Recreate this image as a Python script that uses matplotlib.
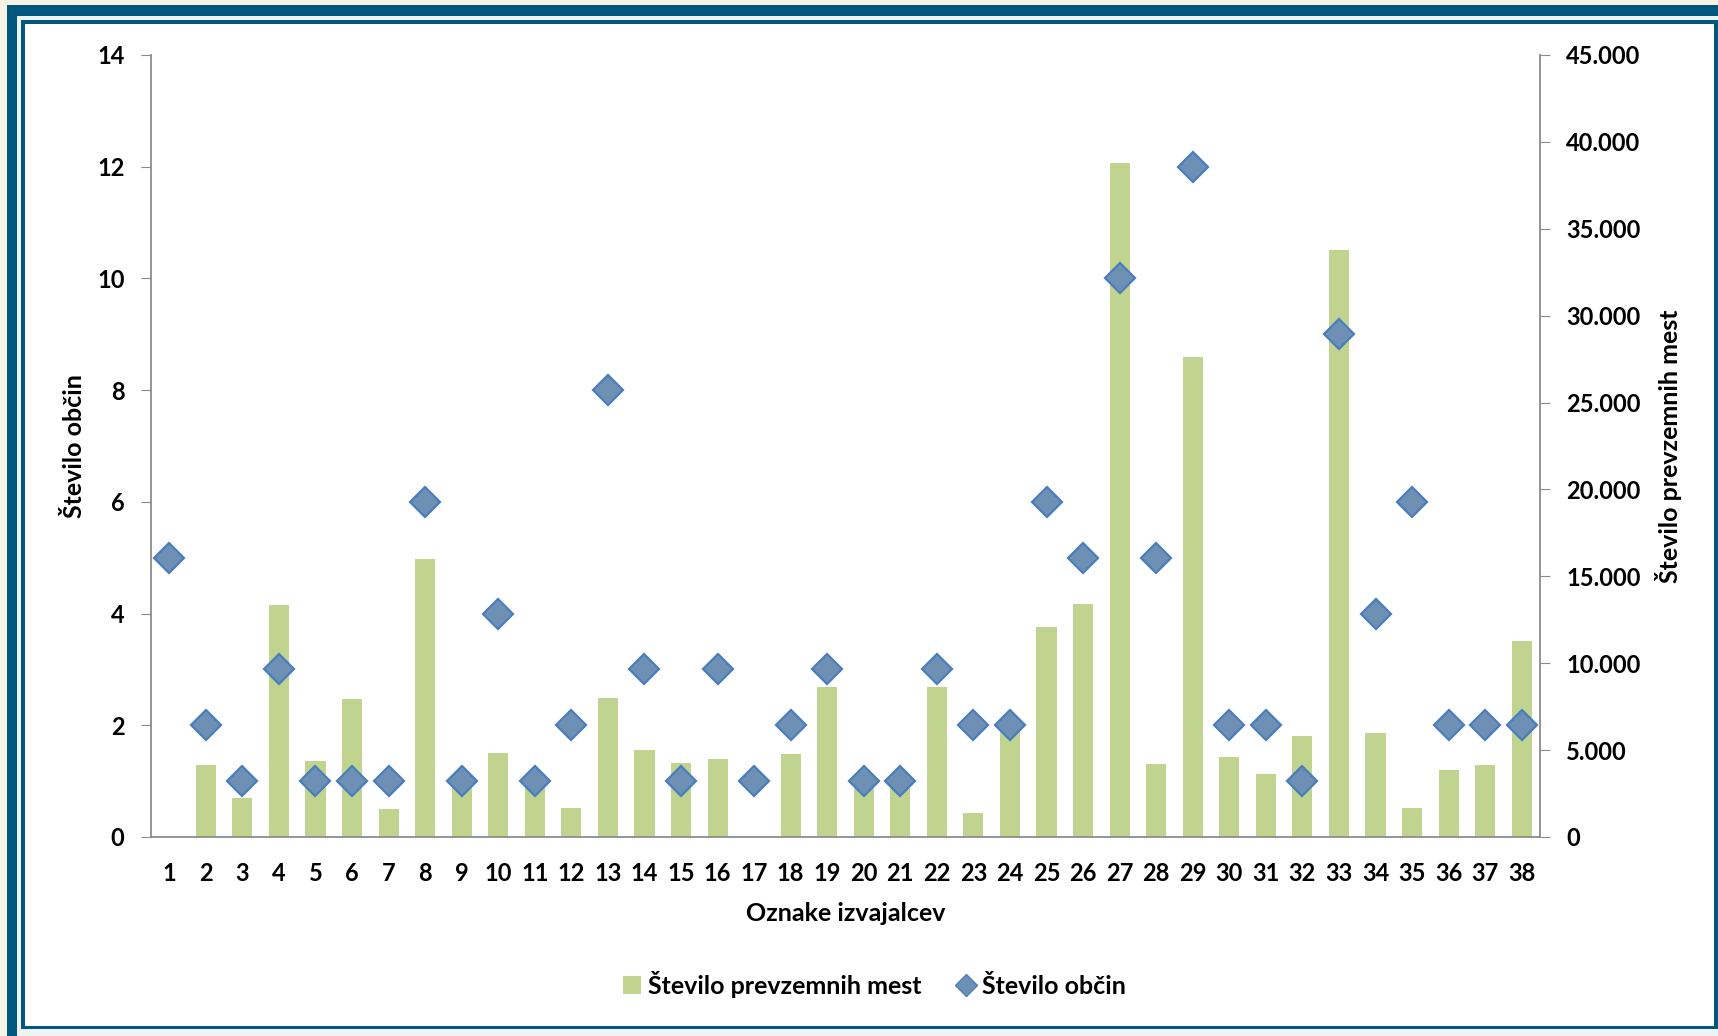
import numpy as np
import matplotlib
matplotlib.use('Agg')
import matplotlib.pyplot as plt
from matplotlib.patches import Rectangle
from matplotlib.lines import Line2D

plt.rcParams['font.family'] = ['Lato', 'DejaVu Sans']

# oznake izvajalcev
labels = [str(i) for i in range(1, 39)]
# stevilo prevzemnih mest (desna os)
mesta = [0, 4150, 2250, 13350, 4400, 7950, 1600, 16000, 3600, 4850,
         3250, 1650, 8000, 4980, 4260, 4470, 0, 4770, 8630, 2870,
         3100, 8650, 1380, 6480, 12100, 13400, 38800, 4190, 27600, 4630,
         3600, 5830, 33800, 5960, 1650, 3880, 4120, 11300]
# stevilo obcin (leva os)
obcine = [5, 2, 1, 3, 1, 1, 1, 6, 1, 4,
          1, 2, 8, 3, 1, 3, 1, 2, 3, 1,
          1, 3, 2, 2, 6, 5, 10, 5, 12, 2,
          2, 1, 9, 4, 6, 2, 2, 2]

W, H = 1718, 1036
fig = plt.figure(figsize=(W / 100, H / 100), dpi=100)
fig.patch.set_facecolor('#f7f4e6')

# okvir
dark = '#02577f'
frame = [
    ((7, 0), 1718 - 7, 1036 - 5, dark),
    ((17, 0), 1718 - 17, 1036 - 16, '#eef3f6'),
    ((21, 1036 - 1029), 1718 - 21, 1029 - 20, dark),
    ((25, 1036 - 1026), 1714 - 25, 1026 - 24, 'white'),
]
for (x0, y0), w, h, c in frame:
    fig.patches.append(Rectangle((x0 / W, y0 / H), w / W, h / H, transform=fig.transFigure,
                                 facecolor=c, edgecolor='none', zorder=-10))

ax = fig.add_axes([151 / W, 1 - 837 / H, (1540 - 151) / W, (837 - 55) / H])
ax2 = ax.twinx()
ax.set_zorder(ax2.get_zorder() + 1)
ax.patch.set_visible(False)
ax2.patch.set_visible(False)

x = np.arange(1, 39)
ax2.bar(x, mesta, width=0.55, color='#c0d48f', zorder=2)
ax.plot(x, obcine, linestyle='none', marker='D', markersize=15,
        markerfacecolor='#6e90b4', markeredgecolor='#4a7ebb', markeredgewidth=1.6, zorder=3)

ax.set_xlim(0.5, 38.5)
ax.set_ylim(0, 14)
ax2.set_ylim(0, 45000)
ax.set_yticks(range(0, 15, 2))
ax2.set_yticks(range(0, 45001, 5000))
ax2.set_yticklabels(['0'] + [f'{v // 1000}.000' for v in range(5000, 45001, 5000)])
ax.set_xticks(x)
ax.set_xticklabels(labels)

grey = '#8c8c8c'
for a in (ax, ax2):
    a.spines['top'].set_visible(False)
    for s in ('left', 'right', 'bottom'):
        a.spines[s].set_color(grey)
        a.spines[s].set_linewidth(1.3)
ax.spines['right'].set_visible(False)
ax2.spines['left'].set_visible(False)
ax2.spines['bottom'].set_visible(False)

ax.tick_params(axis='y', length=7, color=grey, pad=12, labelsize=17)
ax.tick_params(axis='x', length=0, pad=18, labelsize=17)
ax2.tick_params(axis='y', length=7, color=grey, pad=12, labelsize=17)
for lab in ax.get_xticklabels() + ax.get_yticklabels() + ax2.get_yticklabels():
    lab.set_fontweight('bold')

ax.set_ylabel('Število občin', fontsize=18, fontweight='bold')
ax2.set_ylabel('Število prevzemnih mest', fontsize=18, fontweight='bold')
ax.set_xlabel('Oznake izvajalcev', fontsize=18, fontweight='bold')
ax.yaxis.set_label_coords(-0.047, 0.5)
ax2.yaxis.set_label_coords(1.083, 0.5)
ax.xaxis.set_label_coords(0.5, -0.083)

handles = [Rectangle((0, 0), 1, 1, facecolor='#c0d48f', edgecolor='none'),
           Line2D([], [], linestyle='none', marker='D', markersize=11,
                  markerfacecolor='#6e90b4', markeredgecolor='#4a7ebb')]
fig.legend(handles, ['Število prevzemnih mest', 'Število občin'],
           loc='center', bbox_to_anchor=(0.509, 0.05), ncol=2, frameon=False,
           prop={'size': 18, 'weight': 'bold'}, handlelength=0.7, handletextpad=0.3,
           columnspacing=1.4)

fig.savefig('out.png', dpi=100, facecolor=fig.get_facecolor())
